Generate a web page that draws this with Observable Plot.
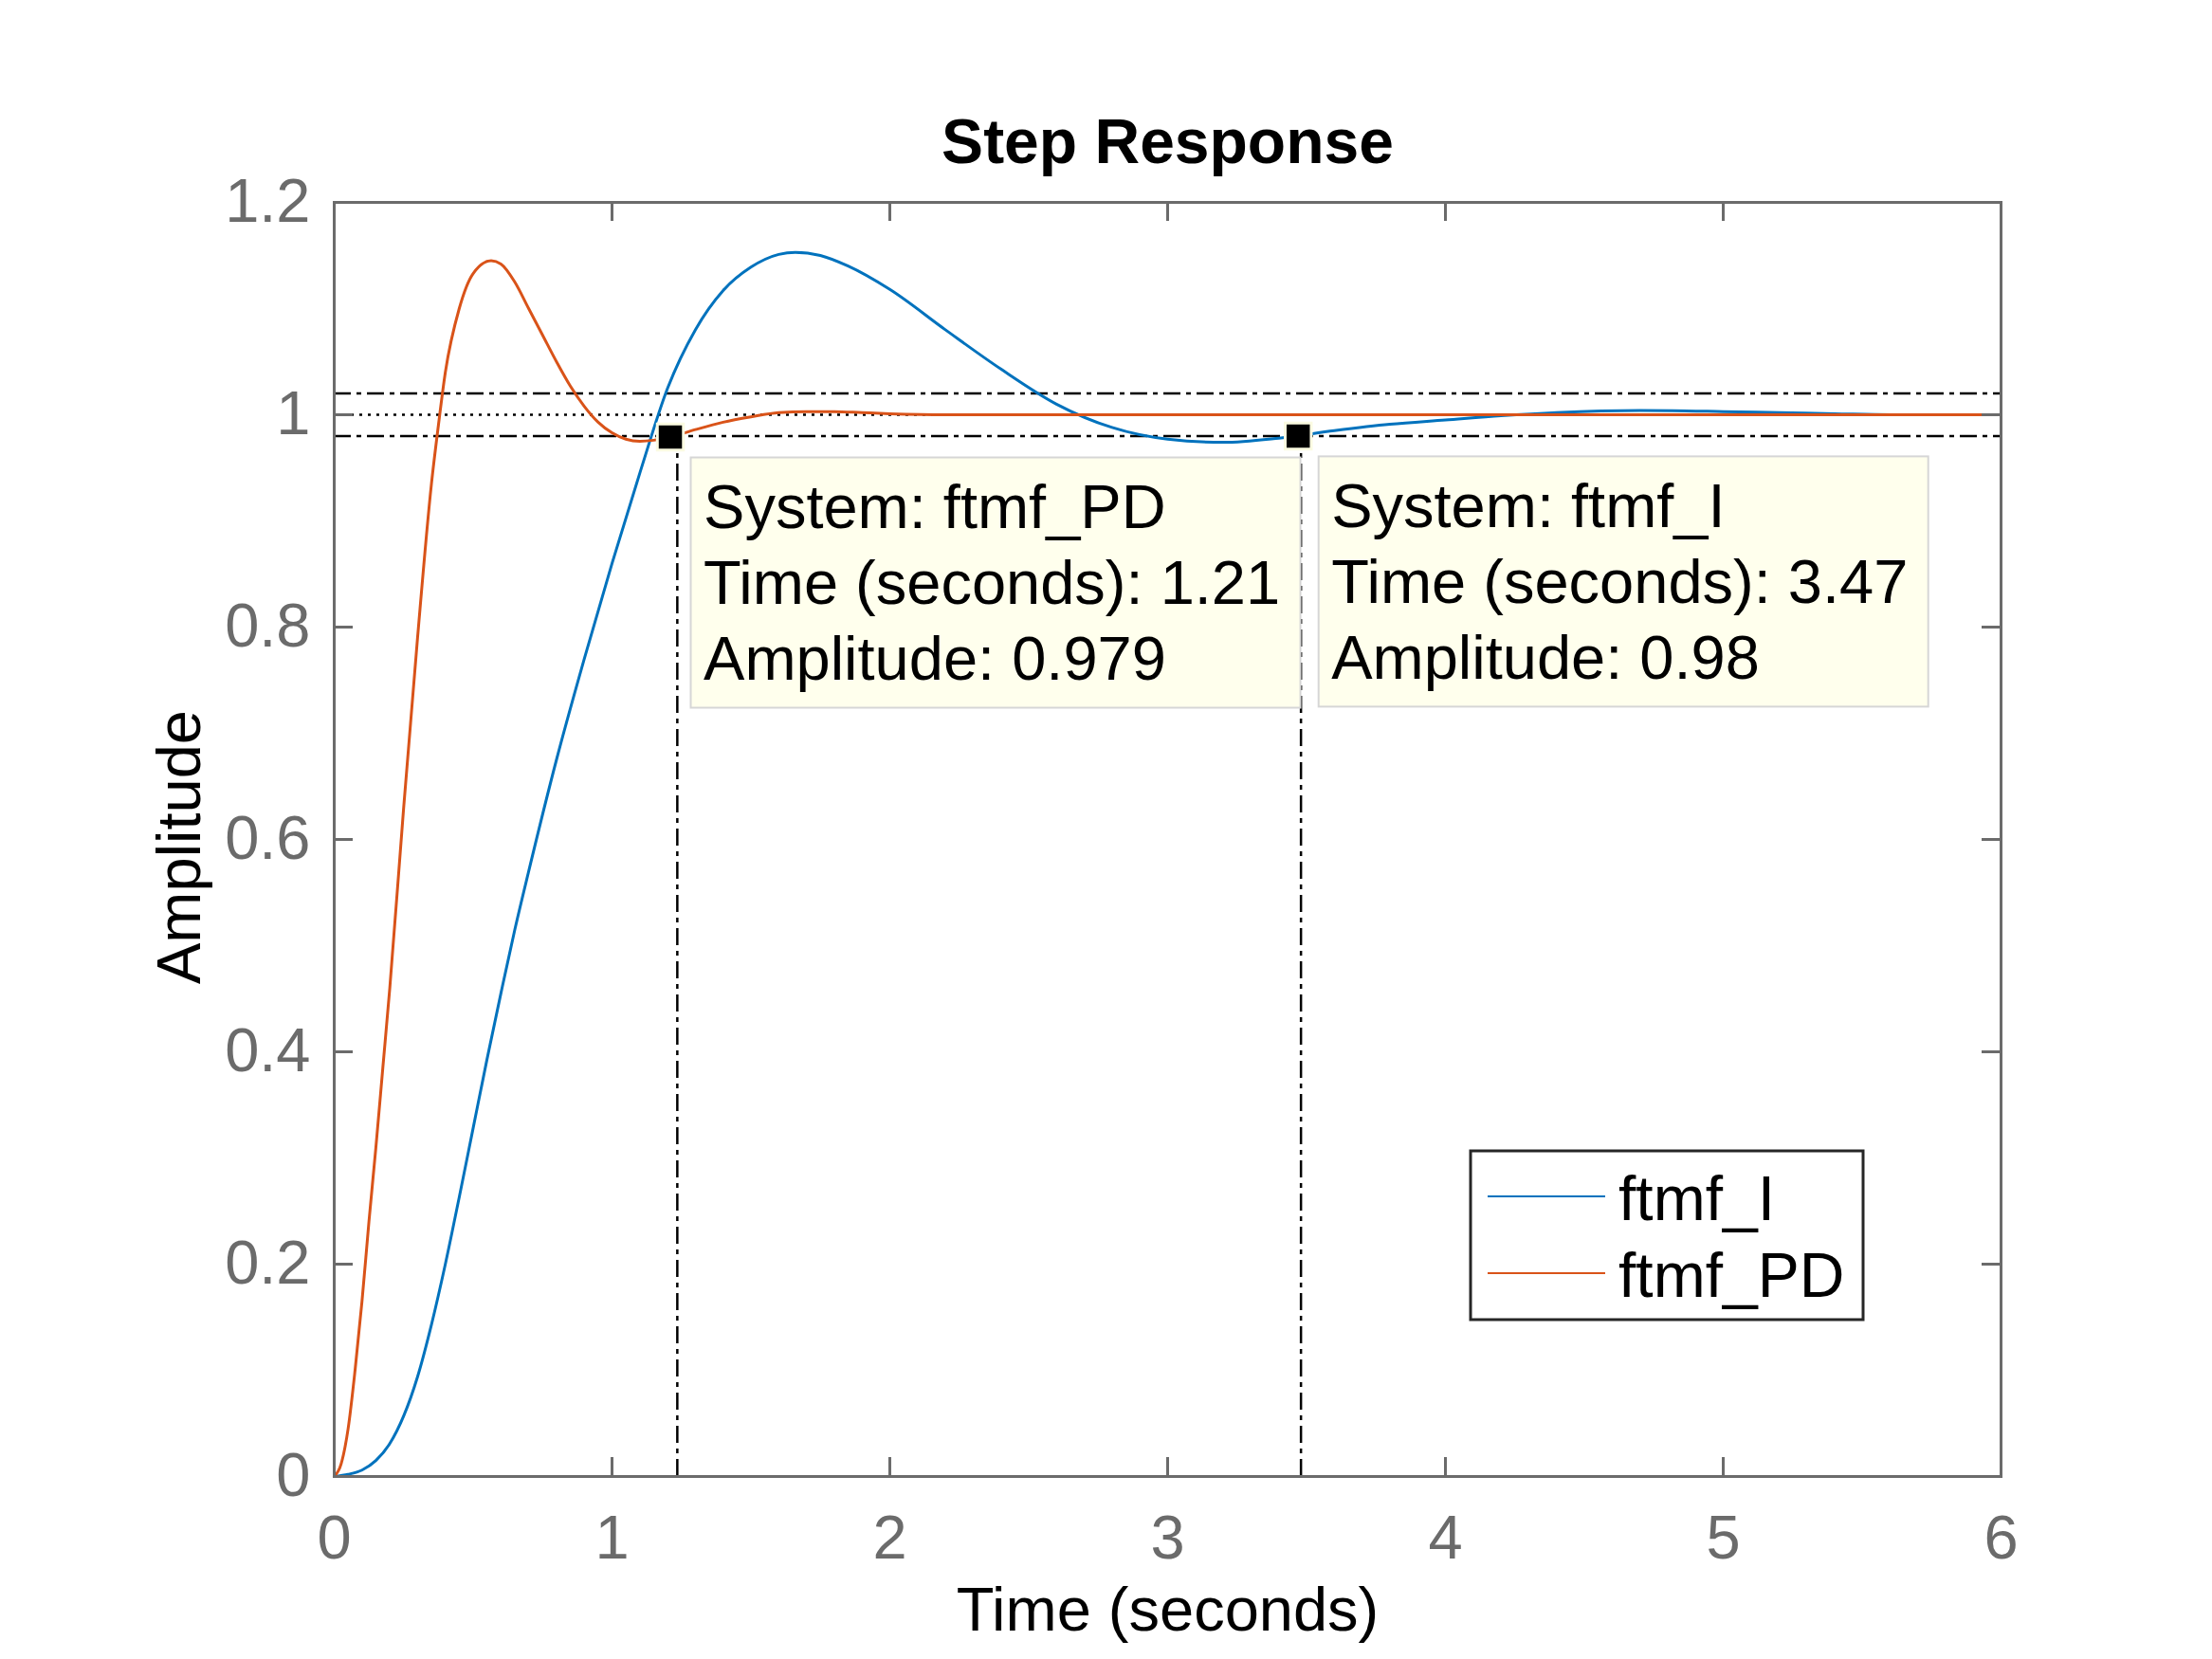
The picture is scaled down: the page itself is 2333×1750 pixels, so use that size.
<!DOCTYPE html>
<html>
<head>
<meta charset="utf-8">
<script src="https://cdn.jsdelivr.net/npm/d3@7"></script>
<script src="https://cdn.jsdelivr.net/npm/@observablehq/plot@0.6"></script>
<style>
  html, body { margin: 0; padding: 0; background: #ffffff; }
  #chart svg { display: block; }
</style>
</head>
<body>
<div id="chart"></div>
<script>
// ---- data ----
const seriesNames = ["ftmf_I", "ftmf_PD"];
const seriesColors = ["#0072BD", "#D95319"];

const timeI = [0, 0.05, 0.1, 0.15, 0.2, 0.25, 0.3, 0.35, 0.4, 0.45, 0.5, 0.55, 0.6, 0.65, 0.7, 0.8, 0.9, 1.0, 1.1, 1.2, 1.3, 1.4, 1.5, 1.6, 1.66, 1.75, 1.85, 2.0, 2.2, 2.4, 2.6, 2.8, 3.0, 3.2, 3.4, 3.6, 3.8, 4.0, 4.2, 4.4, 4.7, 5.0, 5.2, 5.4, 5.6, 5.8, 6.0];
const ampI  = [0, 0.002, 0.006, 0.015, 0.031, 0.057, 0.094, 0.143, 0.2, 0.263, 0.328, 0.393, 0.455, 0.515, 0.57, 0.675, 0.77, 0.86, 0.945, 1.025, 1.08, 1.117, 1.139, 1.151, 1.153, 1.15, 1.14, 1.118, 1.08, 1.043, 1.01, 0.988, 0.977, 0.974, 0.978, 0.985, 0.991, 0.995, 0.999, 1.002, 1.004, 1.003, 1.002, 1.001, 1.0, 1.0, 1.0];

const timePD = [0, 0.025, 0.05, 0.075, 0.1, 0.125, 0.15, 0.175, 0.2, 0.25, 0.3, 0.35, 0.375, 0.4, 0.45, 0.5, 0.565, 0.6, 0.65, 0.7, 0.75, 0.8, 0.85, 0.9, 0.95, 1.0, 1.05, 1.1, 1.15, 1.21, 1.3, 1.4, 1.5, 1.6, 1.7, 1.8, 1.9, 2.0, 2.2, 2.5, 3.0, 4.0, 5.0, 6.0];
const ampPD  = [0, 0.012, 0.045, 0.1, 0.165, 0.24, 0.31, 0.385, 0.46, 0.63, 0.79, 0.935, 0.99, 1.04, 1.1, 1.133, 1.145, 1.142, 1.125, 1.1, 1.075, 1.05, 1.027, 1.008, 0.993, 0.983, 0.977, 0.975, 0.976, 0.979, 0.986, 0.993, 0.998, 1.002, 1.003, 1.003, 1.002, 1.001, 1.0, 1.0, 1.0, 1.0, 1.0, 1.0];

const xTicks = [0, 1, 2, 3, 4, 5, 6];
const xTickLabels = ["0", "1", "2", "3", "4", "5", "6"];
const yTicks = [0, 0.2, 0.4, 0.6, 0.8, 1, 1.2];
const yTickLabels = ["0", "0.2", "0.4", "0.6", "0.8", "1", "1.2"];

const settleBand = [0.98, 1.02];
const finalValue = [1];
const settleTimes = [1.235, 3.48];

const tipSystems = ["ftmf_PD", "ftmf_I"];
const tipTimes = [1.21, 3.47];
const tipAmps = [0.979, 0.98];

const titleText = "Step Response";
const xLabel = "Time (seconds)";
const yLabel = "Amplitude";

// ---- build tables ----
const lineData = [
  ...timeI.map((t, i) => ({t, a: ampI[i], s: seriesNames[0]})),
  ...timePD.map((t, i) => ({t, a: ampPD[i], s: seriesNames[1]}))
];
const tips = tipSystems.map((s, i) => ({
  s, t: tipTimes[i], a: tipAmps[i],
  label: `System: ${s}\nTime (seconds): ${tipTimes[i]}\nAmplitude: ${tipAmps[i]}`
}));

const W = 2333, H = 1750, mL = 352, mR = 223, mT = 213, mB = 193;
const pw = W - mL - mR, ph = H - mT - mB;
const axisGray = "#6b6b6b";
const FONT = "'Liberation Sans', Arial, Helvetica, sans-serif";

function tipBoxes(index, scales) {
  const g = d3.create("svg:g");
  tips.forEach(d => {
    const px = scales.x(d.t), py = scales.y(d.a);
    g.append("rect")
      .attr("x", px + 22).attr("y", py + 22)
      .attr("width", 643).attr("height", 264)
      .attr("fill", "#ffffed").attr("stroke", "#d6d6d6").attr("stroke-width", 2);
  });
  return g.node();
}

function legendMark(index, scales, values, dims) {
  const x0 = dims.width - dims.marginRight - 559;
  const y0 = dims.height - dims.marginBottom - 343;
  const g = d3.create("svg:g");
  g.append("rect").attr("x", x0).attr("y", y0).attr("width", 414).attr("height", 178)
    .attr("fill", "#ffffff").attr("stroke", "#262626").attr("stroke-width", 3);
  seriesNames.forEach((name, i) => {
    const ly = y0 + 48 + i * 81;
    g.append("line").attr("x1", x0 + 18).attr("x2", x0 + 142).attr("y1", ly).attr("y2", ly)
      .attr("stroke", seriesColors[i]).attr("stroke-width", 2);
    g.append("text").attr("x", x0 + 156).attr("y", ly + 25)
      .attr("text-anchor", "start")
      .attr("font-size", 66).attr("font-family", FONT).attr("fill", "#000")
      .text(name);
  });
  return g.node();
}

const chart = Plot.plot({
  width: W, height: H,
  marginLeft: mL, marginRight: mR, marginTop: mT, marginBottom: mB,
  style: {fontFamily: FONT, background: "#ffffff", color: "#000"},
  x: {domain: [0, 6]},
  y: {domain: [0, 1.2]},
  color: {domain: seriesNames, range: seriesColors},
  marks: [
    Plot.ruleY(settleBand, {stroke: "#000", strokeWidth: 2.5, strokeDasharray: "18,6,5,6"}),
    Plot.ruleY(finalValue, {stroke: "#000", strokeWidth: 2.5, strokeDasharray: "3,6"}),
    Plot.ruleX(settleTimes, {y1: 0, y2: settleBand[0], stroke: "#000", strokeWidth: 2.5, strokeDasharray: "18,6,5,6"}),
    Plot.line(lineData, {x: "t", y: "a", z: "s", stroke: "s", strokeWidth: 3, curve: "monotone-x"}),
    tipBoxes,
    Plot.dot(tips, {x: "t", y: "a", symbol: "square", r: 15.5, fill: "#000", stroke: "#fbfbe2", strokeWidth: 3}),
    Plot.text(tips, {x: "t", y: "a", text: "label", dx: 35, dy: 39, textAnchor: "start", lineAnchor: "top", lineHeight: 80 / 65, fontSize: 65, fill: "#000"}),
    Plot.frame({stroke: axisGray, strokeWidth: 3}),
    Plot.tickX(xTicks, {x: d => d, insetTop: ph - 20, stroke: axisGray, strokeWidth: 3}),
    Plot.tickX(xTicks, {x: d => d, insetBottom: ph - 20, stroke: axisGray, strokeWidth: 3}),
    Plot.tickY(yTicks, {y: d => d, insetRight: pw - 20, stroke: axisGray, strokeWidth: 3}),
    Plot.tickY(yTicks, {y: d => d, insetLeft: pw - 20, stroke: axisGray, strokeWidth: 3}),
    Plot.axisX(xTicks, {tickSize: 0, tickPadding: 40, fontSize: 65, color: axisGray, label: null,
      tickFormat: d => xTickLabels[xTicks.indexOf(d)]}),
    Plot.axisY(yTicks, {tickSize: 0, tickPadding: 25, fontSize: 65, color: axisGray, label: null,
      tickFormat: d => yTickLabels[yTicks.indexOf(d)]}),
    Plot.text([xLabel], {frameAnchor: "bottom", dy: 142, textAnchor: "middle", lineAnchor: "middle", fontSize: 65, fill: "#000"}),
    Plot.text([yLabel], {frameAnchor: "left", dx: -162, dy: 8, rotate: -90, textAnchor: "middle", lineAnchor: "middle", fontSize: 65, fill: "#000"}),
    Plot.text([titleText], {frameAnchor: "top", dy: -63, textAnchor: "middle", lineAnchor: "middle", fontSize: 66, fontWeight: "bold", fill: "#000"}),
    legendMark
  ]
});
document.getElementById("chart").appendChild(chart);
</script>
</body>
</html>
